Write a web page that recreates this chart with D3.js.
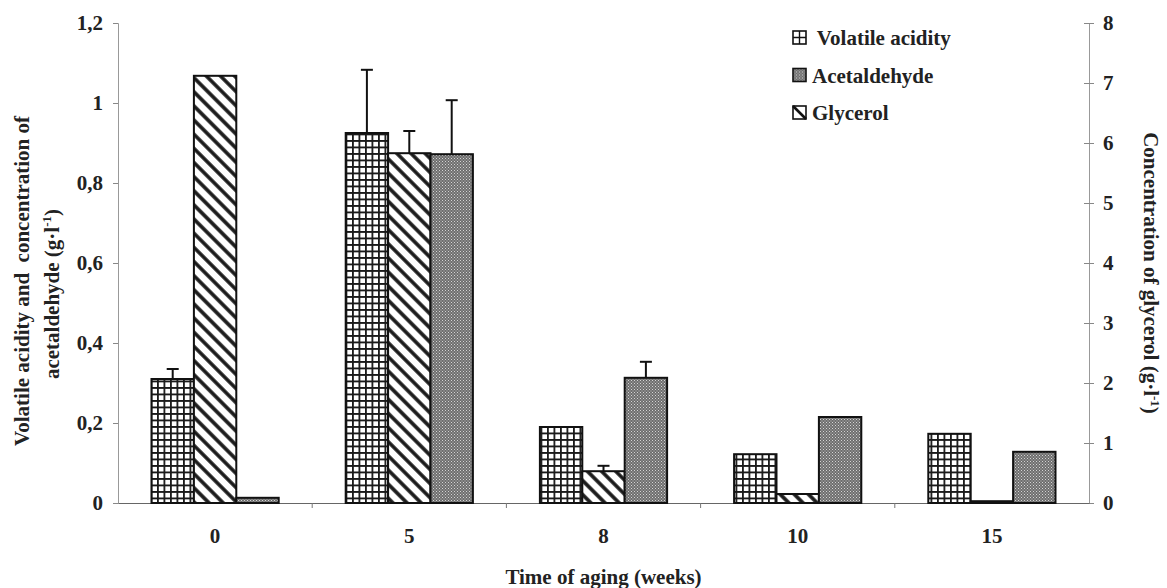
<!DOCTYPE html>
<html>
<head>
<meta charset="utf-8">
<script src="https://cdn.jsdelivr.net/npm/d3@7"></script>
<style>
  html, body { margin: 0; padding: 0; background: #fff; }
  svg text { font-family: "Liberation Serif", "Times New Roman", serif; font-weight: bold; fill: #222; }
</style>
</head>
<body>
<div id="chart"></div>
<script>
// data
const weeks = ["0", "5", "8", "10", "15"];
const volatileAcidity = [0.31, 0.925, 0.19, 0.122, 0.173];   // g/l, left axis
const volatileErr = [0.025, 0.158, 0, 0, 0];
const acetaldehyde = [0.013, 0.872, 0.313, 0.215, 0.128];    // g/l, left axis
const acetaldehydeErr = [0, 0.135, 0.04, 0, 0];
const glycerol = [7.12, 5.83, 0.53, 0.15, 0.03];             // g/l, right axis
const glycerolErr = [0, 0.37, 0.09, 0, 0];
const leftTicks = [0, 0.2, 0.4, 0.6, 0.8, 1, 1.2];
const rightTicks = [0, 1, 2, 3, 4, 5, 6, 7, 8];
const legendNames = [" Volatile acidity", "Acetaldehyde", "Glycerol"];

const width = 1167, height = 588;
const margin = { top: 23, right: 78, bottom: 85, left: 118 };
const plotW = width - margin.left - margin.right;
const plotH = height - margin.top - margin.bottom;
const fs = 21;

const svg = d3.select('#chart').append('svg')
  .attr('width', width)
  .attr('height', height);

// patterns
const defs = svg.append('defs');
const grid = defs.append('pattern').attr('id', 'grid')
  .attr('patternUnits', 'userSpaceOnUse').attr('width', 6.5).attr('height', 6.5);
grid.append('rect').attr('width', 6.5).attr('height', 6.5).attr('fill', '#fff');
grid.append('path').attr('d', 'M0,0.9H6.5M0.9,0V6.5').attr('stroke', '#1a1a1a').attr('stroke-width', 1.8);

const hatch = defs.append('pattern').attr('id', 'hatch')
  .attr('patternUnits', 'userSpaceOnUse').attr('width', 10).attr('height', 10)
  .attr('patternTransform', 'rotate(45)');
hatch.append('rect').attr('width', 10).attr('height', 10).attr('fill', '#fff');
hatch.append('line').attr('x1', 0).attr('x2', 10).attr('y1', 5).attr('y2', 5)
  .attr('stroke', '#1a1a1a').attr('stroke-width', 3.6);

const dots = defs.append('pattern').attr('id', 'dots')
  .attr('patternUnits', 'userSpaceOnUse').attr('width', 3).attr('height', 3);
dots.append('rect').attr('width', 3).attr('height', 3).attr('fill', '#6e6e6e');
dots.append('rect').attr('width', 1).attr('height', 1).attr('fill', '#d4d4d4');
dots.append('rect').attr('x', 1.5).attr('y', 1.5).attr('width', 1).attr('height', 1).attr('fill', '#c4c4c4');

// scales
const x = d3.scaleBand().domain(weeks).range([0, plotW]);
const groupW = x.bandwidth() * 0.655;
const inner = d3.scaleBand().domain(['va', 'gly', 'acet']).range([0, groupW]);
const yL = d3.scaleLinear().domain([0, 1.2]).range([plotH, 0]);
const yR = d3.scaleLinear().domain([0, 8]).range([plotH, 0]);

const chart = svg.append('g')
  .attr('transform', `translate(${margin.left}, ${margin.top})`);

// axes
const leftAxis = chart.append('g')
  .call(d3.axisLeft(yL).tickValues(leftTicks).tickSize(5).tickPadding(10)
    .tickFormat(d => String(+d.toFixed(1)).replace('.', ',')));
leftAxis.select('.domain').attr('stroke', '#999');
leftAxis.selectAll('.tick line').attr('stroke', '#888');
leftAxis.selectAll('text').attr('font-size', fs).attr('fill', '#222');

const rightAxis = chart.append('g')
  .attr('transform', `translate(${plotW}, 0)`)
  .call(d3.axisRight(yR).tickValues(rightTicks).tickSize(5).tickPadding(9));
rightAxis.select('.domain').attr('stroke', '#999');
rightAxis.selectAll('.tick line').attr('x1', -5).attr('stroke', '#888');
rightAxis.selectAll('text').attr('font-size', fs).attr('fill', '#222');

const bottomAxis = chart.append('g')
  .attr('transform', `translate(0, ${plotH})`)
  .call(d3.axisBottom(x).tickSize(0).tickPadding(25));
bottomAxis.select('.domain').attr('stroke', '#666');
bottomAxis.selectAll('text').attr('font-size', fs).attr('fill', '#222');

// tick marks between categories
chart.append('g').selectAll('line')
  .data(weeks.slice(1))
  .enter().append('line')
  .attr('x1', d => x(d)).attr('x2', d => x(d))
  .attr('y1', plotH).attr('y2', plotH + 5)
  .attr('stroke', '#777');

// bars
const series = [
  { key: 'va', values: volatileAcidity, err: volatileErr, y: yL, fill: 'url(#grid)' },
  { key: 'gly', values: glycerol, err: glycerolErr, y: yR, fill: 'url(#hatch)' },
  { key: 'acet', values: acetaldehyde, err: acetaldehydeErr, y: yL, fill: 'url(#dots)' }
];

const barX = (week, key) => x(week) + (x.bandwidth() - groupW) / 2 + inner(key);

series.forEach(s => {
  const rows = weeks.map((w, i) => ({ week: w, value: s.values[i], err: s.err[i] }));

  chart.append('g').selectAll('rect')
    .data(rows)
    .enter().append('rect')
    .attr('x', d => barX(d.week, s.key))
    .attr('y', d => s.y(d.value))
    .attr('width', inner.bandwidth())
    .attr('height', d => plotH - s.y(d.value))
    .attr('fill', s.fill)
    .attr('stroke', '#111')
    .attr('stroke-width', 2);

  // error bars (upper only)
  const errs = chart.append('g').selectAll('g')
    .data(rows.filter(d => d.err > 0))
    .enter().append('g')
    .attr('stroke', '#111').attr('stroke-width', 2);
  errs.append('line')
    .attr('x1', d => barX(d.week, s.key) + inner.bandwidth() / 2)
    .attr('x2', d => barX(d.week, s.key) + inner.bandwidth() / 2)
    .attr('y1', d => s.y(d.value))
    .attr('y2', d => s.y(d.value + d.err));
  errs.append('line')
    .attr('x1', d => barX(d.week, s.key) + inner.bandwidth() / 2 - 6)
    .attr('x2', d => barX(d.week, s.key) + inner.bandwidth() / 2 + 6)
    .attr('y1', d => s.y(d.value + d.err))
    .attr('y2', d => s.y(d.value + d.err));
});

// axis titles
svg.append('text')
  .attr('transform', 'translate(29, 281) rotate(-90)')
  .attr('text-anchor', 'middle')
  .attr('font-size', fs).style('white-space', 'pre')
  .text('Volatile acidity and  concentration of');
const lt2 = svg.append('text')
  .attr('transform', 'translate(59, 294) rotate(-90)')
  .attr('text-anchor', 'middle').attr('font-size', fs);
lt2.append('tspan').text('acetaldehyde (g·l');
lt2.append('tspan').attr('dy', -8).attr('font-size', 13).text('-1');
lt2.append('tspan').attr('dy', 8).text(')');

const rt = svg.append('text')
  .attr('transform', 'translate(1144, 273) rotate(90)')
  .attr('text-anchor', 'middle').attr('font-size', fs);
rt.append('tspan').text('Concentration of glycerol (g·l');
rt.append('tspan').attr('dy', -7).attr('font-size', 13).text('-1');
rt.append('tspan').attr('dy', 7).text(')');

svg.append('text')
  .attr('x', margin.left + plotW / 2).attr('y', 584)
  .attr('text-anchor', 'middle').attr('font-size', fs)
  .text('Time of aging (weeks)');

// legend
const legend = svg.append('g').attr('transform', 'translate(793, 0)');
const items = legend.selectAll('g')
  .data(legendNames)
  .enter().append('g')
  .attr('transform', (d, i) => `translate(0, ${31 + i * 37.5})`);

items.append('rect')
  .attr('width', 13).attr('height', 13)
  .attr('fill', (d, i) => i === 1 ? 'url(#dots)' : '#fff')
  .attr('stroke', '#111').attr('stroke-width', 1.6);
// small icons for grid & hatch swatches
items.filter((d, i) => i === 0).append('path')
  .attr('d', 'M6.5,0V13M0,6.5H13').attr('stroke', '#111').attr('stroke-width', 1.4);
items.filter((d, i) => i === 2).append('path')
  .attr('d', 'M0,0L13,13').attr('stroke', '#111').attr('stroke-width', 2.6);

items.append('text')
  .attr('x', 19).attr('y', 14)
  .attr('font-size', fs)
  .style('white-space', 'pre')
  .text(d => d);
</script>
</body>
</html>
